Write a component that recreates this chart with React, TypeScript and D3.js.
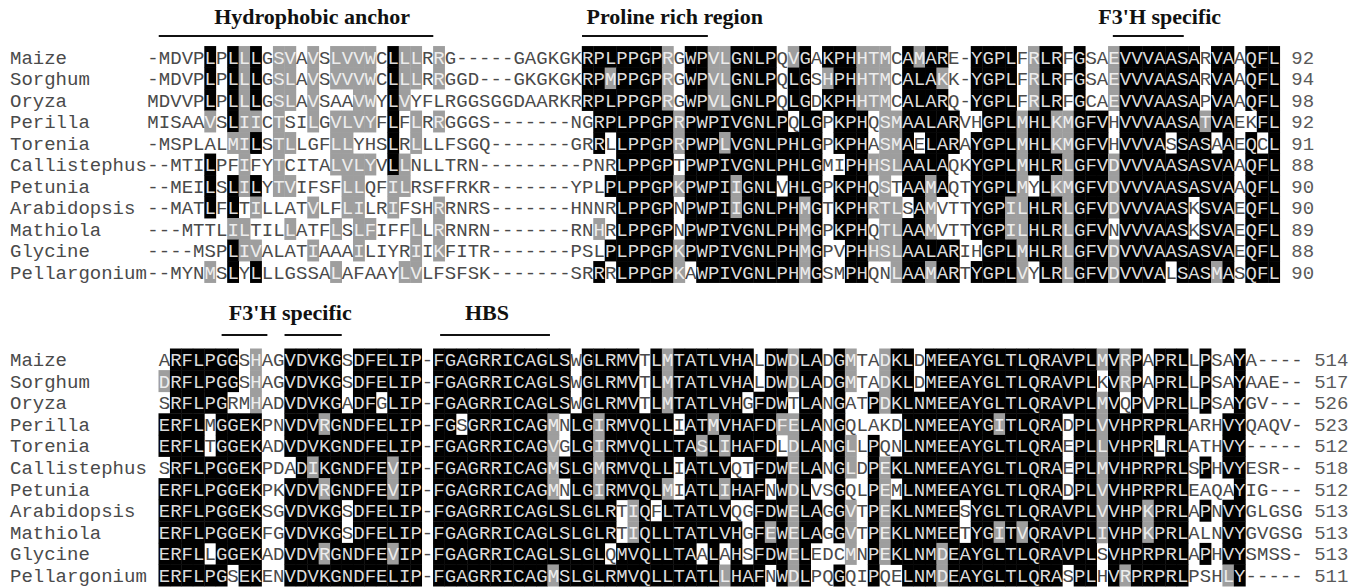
import React, { useEffect, useRef } from "react";
import * as d3 from "d3";

// species in display order
const species = [
  "Maize", "Sorghum", "Oryza", "Perilla", "Torenia", "Callistephus",
  "Petunia", "Arabidopsis", "Mathiola", "Glycine", "Pellargonium",
];

// N-terminal block
const topSeqs = [
  "-MDVPLPLLLGSVAVSLVVWCLLLRRG-----GAGKGKRPLPPGPRGWPVLGNLPQVGAKPHHTMCAMARE-YGPLFRLRFGSAEVVVAASARVAAQFL",
  "-MDVPLPLLLGSLAVSVVVWCLLLRRGGD---GKGKGKRPMPPGPRGWPVLGNLPQLGSHPHHTMCALAKK-YGPLFRLRFGSAEVVVAASARVAAQFL",
  "MDVVPLPLLLGSLAVSAAVWYLVYFLRGGSGGDAARKRRPLPPGPRGWPVLGNLPQLGDKPHHTMCALARQ-YGPLFRLRFGCAEVVVAASAPVAAQFL",
  "MISAAVSLIICTSILGVLVYFLFLRRGGGS-------NGRPLPPGPRPWPIVGNLPQLGPKPHQSMAALARVHGPLMHLKMGFVHVVVAASATVAEKFL",
  "-MSPLALMILSTLLGFLLYHSLRLLLFSGQ-------GRRLLPPGPRPWPLVGNLPHLGPKPHASMAELARAYGPLMHLKMGFVHVVVASSASAAEQCL",
  "--MTILPFIFYTCITALVLYVLLNLLTRN---------PNRLPPGPTPWPIVGNLPHLGMIPHHSLAALAQKYGPLMHLRLGFVDVVVAASASVAAQFL",
  "--MEILSLILYTVIFSFLLQFILRSFFRKR-------YPLPLPPGPKPWPIIGNLVHLGPKPHQSTAAMAQTYGPLMYLKMGFVDVVVAASASVAAQFL",
  "--MATLFLTILLATVLFLILRIFSHRRNRS-------HNNRLPPGPNPWPIIGNLPHMGTKPHRTLSAMVTTYGPILHLRLGFVDVVVAASKSVAEQFL",
  "---MTTLILTILLATFLSLFIFFLLRRNRN-------RNHRLPPGPNPWPIVGNLPHMGPKPHQTLAAMVTTYGPILHLRLGFVNVVVAASKSVAEQFL",
  "----MSPLIVALATIAAAILIYRIIKFITR-------PSLPLPPGPKPWPIVGNLPHMGPVPHHSLAALARIHGPLMHLRLGFVDVVVAASASVAEQFL",
  "--MYNMSLYLLLGSSALAFAAYLVLFSFSK-------SRRRLPPGPKAWPIVGNLPHMGSMPHQNLAAMARTYGPLVYLRLGFVDVVVALSASMASQFL",
];
const topEnds = [92, 94, 98, 92, 91, 88, 90, 90, 89, 88, 90];

// C-terminal block
const bottomSeqs = [
  "ARFLPGGSHAGVDVKGSDFELIP-FGAGRRICAGLSWGLRMVTLMTATLVHALDWDLADGMTADKLDMEEAYGLTLQRAVPLMVRPAPRLLPSAYA----",
  "DRFLPGGSHAGVDVKGSDFELIP-FGAGRRICAGLSWGLRMVTLMTATLVHALDWDLADGMTADKLDMEEAYGLTLQRAVPLKVRPAPRLLPSAYAAE--",
  "SRFLPGRMHADVDVKGADFGLIP-FGAGRRICAGLSWGLRMVTLMTATLVHGFDWTLANGATPDKLNMEEAYGLTLQRAVPLMVQPVPRLLPSAYGV---",
  "ERFLMGGEKPNVDVRGNDFELIP-FGSGRRICAGMNLGIRMVQLLIATMVHAFDFELANGQLAKDLNMEEAYGITLQRADPLVVHPRPRLARHVYQAQV-",
  "ERFLTGGEKADVDVKGNDFELIP-FGAGRRICAGVGLGIRMVQLLTASLIHAFDLDLANGLLPQNLNMEEAYGLTLQRAEPLLVHPRLRLATHVY-----",
  "SRFLPGGEKPDADIKGNDFEVIP-FGAGRRICAGMSLGMRMVQLLIATLVQTFDWELANGLDPEKLNMEEAYGLTLQRAEPLMVHPRPRLSPHVYESR--",
  "ERFLPGGEKPKVDVRGNDFEVIP-FGAGRRICAGMNLGIRMVQLMIATLIHAFNWDLVSGQLPEMLNMEEAYGLTLQRADPLVVHPRPRLEAQAYIG---",
  "ERFLPGGEKSGVDVKGSDFELIP-FGAGRRICAGLSLGLRTIQFLTATLVQGFDWELAGGVTPEKLNMEESYGLTLQRAVPLVVHPKPRLAPNVYGLGSG",
  "ERFLPGGEKFGVDVKGSDFELIP-FGAGRRICAGLSLGLRTIQLLTATLVHGFEWELAGGVTPEKLNMEETYGITVQRAVPLIVHPKPRLALNVYGVGSG",
  "ERFLLGGEKADVDVRGNDFEVIP-FGAGRRICAGLSLGLQMVQLLTAALAHSFDWELEDCMNPEKLNMDEAYGLTLQRAVPLSVHPRPRLAPHVYSMSS-",
  "ERFLPGSEKENVDVKGNDFELIP-FGAGRRICAGMSLGLRMVQLLTATLLHAFNWDLPQGQIPQELNMDEAYGLTLQRASPLHVRPRPRLPSHLY-----",
];
const bottomEnds = [514, 517, 526, 523, 512, 518, 512, 513, 513, 513, 511];

// annotated regions, in alignment columns
const topRegions = [
  { label: "Hydrophobic anchor", from: 1, to: 25, at: 14.4 },
  { label: "Proline rich region", from: 38, to: 49, at: 46.1 },
  { label: "F3'H specific", from: 84.4, to: 90.6, at: 88.5 },
];
const bottomRegions = [
  { label: "F3'H specific", from: 5.5, to: 9.5, at: 11.5 },
  { label: "", from: 11, to: 16, at: 0 },
  { label: "HBS", from: 24.6, to: 34.2, at: 28.7 },
];

// similarity groups used for grey shading
const simGroups = ["ILVM", "FYW", "KRH", "DE", "NQ", "ST"];

// in the top block the monocot gap at column 72 is scored as if it sat at column 33
const gapMove = { from: 71, to: 32 };

const isRes = (ch) => /[A-Z]/.test(ch);

const shadeColumns = (seqs) => {
  const len = d3.max(seqs, (s) => s.length);
  const shade = seqs.map(() => new Array(len).fill(0));
  for (let c = 0; c < len; c++) {
    const col = seqs.map((s) => s[c] || " ");
    const res = col.filter(isRes);
    const counts = Array.from(d3.rollup(res, (v) => v.length, (d) => d));
    counts.sort((a, b) => b[1] - a[1]);
    const best = counts.length ? counts[0][0] : "";
    const bestN = counts.length ? counts[0][1] : 0;
    if (bestN >= 6) {
      const g = simGroups.find((gr) => gr.includes(best));
      col.forEach((ch, r) => {
        if (ch === best) shade[r][c] = 2;
        else if (g && isRes(ch) && g.includes(ch)) shade[r][c] = 1;
      });
    } else {
      let bestG = null;
      let bestGN = 0;
      simGroups.forEach((g) => {
        const k = res.filter((ch) => g.includes(ch)).length;
        if (k > bestGN) { bestGN = k; bestG = g; }
      });
      if (bestG && bestGN >= 6) {
        col.forEach((ch, r) => { if (isRes(ch) && bestG.includes(ch)) shade[r][c] = 1; });
      }
    }
  }
  return shade;
};

const shadeBlock = (seqs, moveGap) => {
  if (!moveGap) return shadeColumns(seqs);
  const { from, to } = gapMove;
  const moved = seqs.map((s) => s[from] === "-");
  const scoring = seqs.map((s, r) =>
    moved[r] ? s.slice(0, to) + "-" + s.slice(to, from) + s.slice(from + 1) : s
  );
  const sc = shadeColumns(scoring);
  return seqs.map((s, r) =>
    Array.from(s).map((ch, c) => {
      if (!moved[r]) return sc[r][c];
      if (c >= to && c < from) return sc[r][c + 1];
      if (c === from) return 0;
      return sc[r][c];
    })
  );
};

const App = () => {
  const svgRef = useRef(null);

  useEffect(() => {
    const width = 1366;
    const height = 587;
    const cw = 11.44;
    const mono = "'Liberation Mono', 'Courier New', monospace";
    const serif = "'Liberation Serif', 'Times New Roman', serif";

    const svg = d3.select(svgRef.current).attr("width", width).attr("height", height);
    svg.selectAll("*").remove();
    svg.append("rect").attr("width", width).attr("height", height).attr("fill", "#fff");

    const drawBlock = (seqs, ends, regions, opts) => {
      const len = d3.max(seqs, (s) => s.length);
      const x = d3.scaleLinear().domain([0, len]).range([opts.x0, opts.x0 + len * cw]);
      const y = d3.scaleLinear().domain([0, species.length - 1]).range(opts.rows);
      const rowH = (opts.rows[1] - opts.rows[0]) / (species.length - 1);
      const shade = shadeBlock(seqs, opts.moveGap);
      const g = svg.append("g");

      regions.forEach((rg) => {
        if (rg.label) {
          g.append("text")
            .attr("x", x(rg.at))
            .attr("y", opts.titleY)
            .attr("text-anchor", "middle")
            .attr("font-family", serif)
            .attr("font-weight", "bold")
            .attr("font-size", 22)
            .attr("fill", "#111")
            .text(rg.label);
        }
        g.append("line")
          .attr("x1", x(rg.from))
          .attr("x2", x(rg.to))
          .attr("y1", opts.barY)
          .attr("y2", opts.barY)
          .attr("stroke", "#111")
          .attr("stroke-width", 2);
      });

      const cells = [];
      seqs.forEach((s, r) => {
        for (let c = 0; c < s.length; c++) cells.push({ r, c, ch: s[c], lvl: shade[r][c] });
      });

      g.append("g")
        .selectAll("rect")
        .data(cells.filter((d) => d.lvl > 0))
        .join("rect")
        .attr("x", (d) => x(d.c) - 0.2)
        .attr("y", (d) => y(d.r) - rowH / 2 - 0.2)
        .attr("width", cw + 0.4)
        .attr("height", rowH + 0.4)
        .attr("fill", (d) => (d.lvl === 2 ? "#000" : "#9e9e9e"));

      g.append("g")
        .attr("font-family", mono)
        .attr("font-size", 19)
        .attr("text-anchor", "middle")
        .selectAll("text")
        .data(cells.filter((d) => d.ch !== " "))
        .join("text")
        .attr("x", (d) => x(d.c + 0.5))
        .attr("y", (d) => y(d.r) + 6.5)
        .attr("fill", (d) => (d.lvl === 2 ? "#dcdcdc" : d.lvl === 1 ? "#ededed" : "#4a4a4a"))
        .text((d) => d.ch);

      g.append("g")
        .attr("font-family", mono)
        .attr("font-size", 19)
        .selectAll("text")
        .data(species)
        .join("text")
        .attr("x", 10)
        .attr("y", (d, i) => y(i) + 6.5)
        .attr("fill", "#4a4a4a")
        .text((d) => d);

      g.append("g")
        .attr("font-family", mono)
        .attr("font-size", 19)
        .selectAll("text")
        .data(ends)
        .join("text")
        .attr("x", x(len + 1))
        .attr("y", (d, i) => y(i) + 6.5)
        .attr("fill", "#5a5a5a")
        .text((d) => d);
    };

    drawBlock(topSeqs, topEnds, topRegions, { x0: 147.3, rows: [57, 272], titleY: 24, barY: 36, moveGap: true });
    drawBlock(bottomSeqs, bottomEnds, bottomRegions, { x0: 158.7, rows: [359.5, 575.5], titleY: 320, barY: 335, moveGap: false });
  }, []);

  return (
    <svg ref={svgRef} style={{ position: "absolute", left: 0, top: 0, display: "block" }}></svg>
  );
};

export default App;
